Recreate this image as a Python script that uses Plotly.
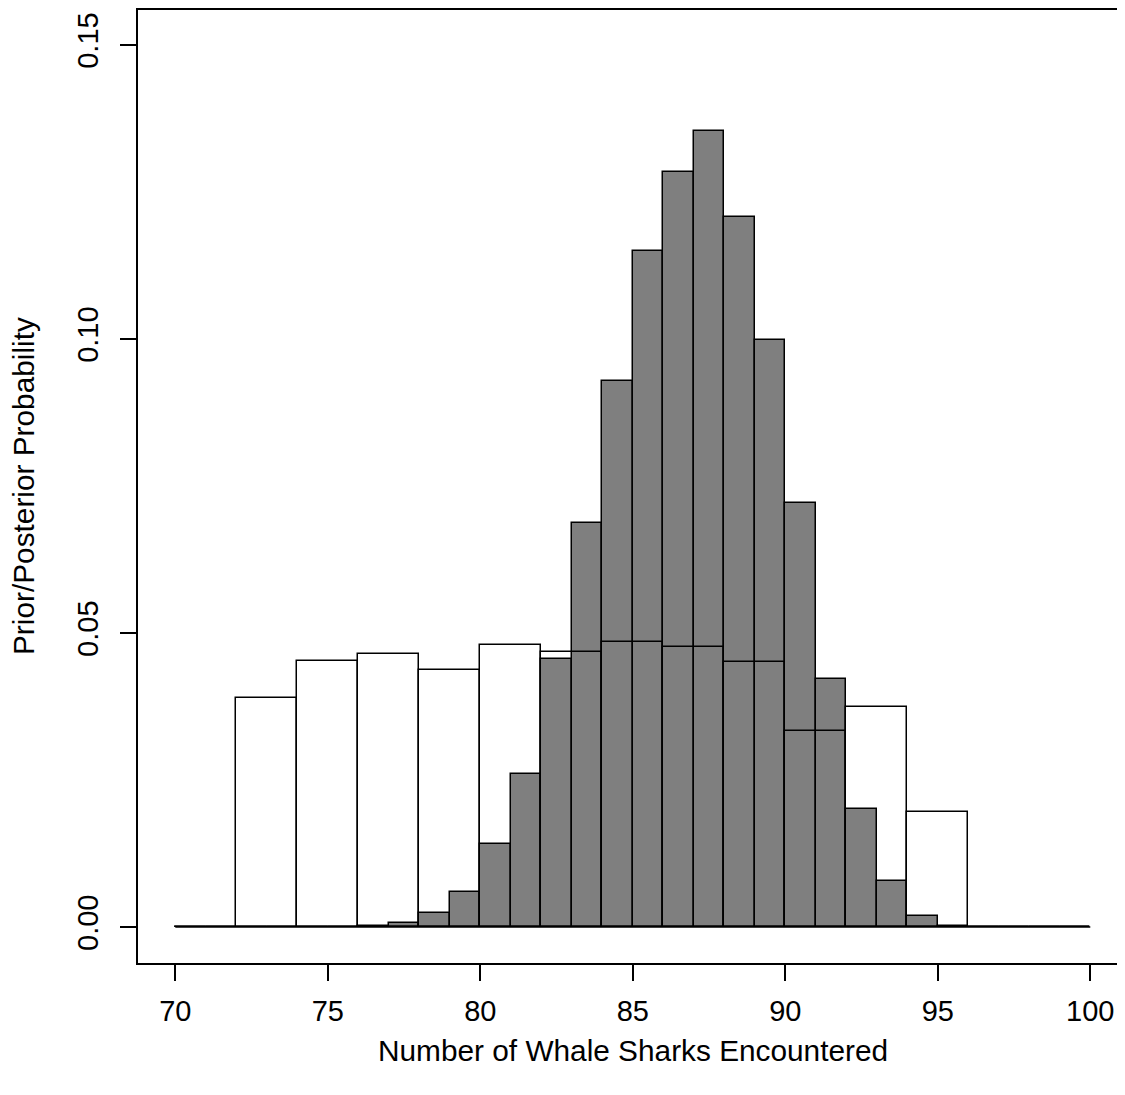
import plotly.graph_objects as go

# ---- data ----
# Posterior (gray) histogram: bins of width 1 from 70 to 100
post_left_edges = list(range(70, 100))
post_heights = [0, 0, 0, 0, 0, 0.00003, 0.0001, 0.0007, 0.0024, 0.0059,
                0.0141, 0.0260, 0.0455, 0.0687, 0.0928, 0.1150, 0.1284, 0.1354, 0.1208, 0.0999,
                0.0721, 0.0422, 0.0200, 0.0078, 0.0019, 0.0002, 0, 0, 0, 0]

# Prior (white) histogram: bins of width 2 from 70 to 100
prior_left_edges = list(range(70, 100, 2))
prior_heights = [0, 0.0389, 0.0452, 0.0465, 0.0437, 0.0479, 0.0467, 0.0484,
                 0.0476, 0.0451, 0.0333, 0.0374, 0.0195, 0, 0]

x_ticks = [70, 75, 80, 85, 90, 95, 100]
y_ticks = [0.00, 0.05, 0.10, 0.15]
y_tick_text = ["0.00", "0.05", "0.10", "0.15"]

x_title = "Number of Whale Sharks Encountered"
y_title = "Prior/Posterior Probability"

# ---- figure ----
FONT = "Liberation Sans, Arial, Helvetica, sans-serif"
FS = 29
FS_TITLE = 29.8

post_w = 1
prior_w = 2
post_centers = [e + post_w / 2 for e in post_left_edges]
prior_centers = [e + prior_w / 2 for e in prior_left_edges]

fig = go.Figure()

# baseline where bins are empty (R draws zero-height rectangles as lines)
all_edges = post_left_edges + [post_left_edges[-1] + post_w]
fig.add_trace(go.Scatter(
    x=[min(all_edges), max(all_edges)], y=[0, 0], mode="lines",
    line=dict(color="black", width=1.5), hoverinfo="skip", showlegend=False))

fig.add_trace(go.Bar(
    x=post_centers, y=post_heights, width=[post_w] * len(post_centers),
    marker=dict(color="#7f7f7f", line=dict(color="black", width=1.5)),
    showlegend=False, name="Posterior"))

fig.add_trace(go.Bar(
    x=prior_centers, y=prior_heights, width=[prior_w] * len(prior_centers),
    marker=dict(color="rgba(0,0,0,0)", line=dict(color="black", width=1.5)),
    showlegend=False, name="Prior"))

# The page body has an 8px margin; figure coords = page coords - 8.
OFF = 8
L, T, B = 138 - OFF, 0, 963 - OFF
W, H = 1125 - 2 * OFF, 1095 - 2 * OFF
x70, x100 = 175.3 - OFF, 1090.3 - OFF
y0, y15 = 927 - OFF, 43 - OFF
xpp = (x100 - x70) / 30.0
ypp = (y0 - y15) / 0.15
x_range = [70 - (x70 - L) / xpp, 100 + (W - x100) / xpp]
y_range = [-(B - y0) / ypp, (y0 - T) / ypp]

fig.update_layout(
    width=W, height=H,
    margin=dict(l=L, r=0, t=T, b=H - B, pad=0),
    paper_bgcolor="white", plot_bgcolor="white",
    barmode="overlay", bargap=0,
    font=dict(family=FONT, size=FS, color="black"),
    showlegend=False,
)

fig.update_xaxes(
    range=x_range, showgrid=False, zeroline=False,
    showline=True, linecolor="black", linewidth=2, mirror=True,
    ticks="outside", ticklen=16, tickwidth=2, tickcolor="black",
    tickvals=x_ticks, ticktext=[str(v) for v in x_ticks],
    tickfont=dict(family=FONT, size=FS, color="black"),
    ticklabelstandoff=5,
)
fig.update_yaxes(
    range=y_range, showgrid=False, zeroline=False,
    showline=True, linecolor="black", linewidth=2, mirror=False,
    ticks="outside", ticklen=16, tickwidth=2, tickcolor="black",
    tickvals=y_ticks, ticktext=y_tick_text, tickangle=-90,
    tickfont=dict(family=FONT, size=FS, color="black"),
    ticklabelstandoff=10,
)

fig.add_annotation(text=x_title, xref="paper", yref="paper", x=0.5, y=0,
                   xanchor="center", yanchor="middle", yshift=-(1050 - 963), xshift=5,
                   showarrow=False, font=dict(family=FONT, size=FS_TITLE, color="black"))
fig.add_annotation(text=y_title, xref="paper", yref="paper", x=0, y=0.5,
                   xanchor="center", yanchor="middle", xshift=-114.5, textangle=-90,
                   showarrow=False, font=dict(family=FONT, size=FS_TITLE, color="black"))

fig.write_html("out.html")
